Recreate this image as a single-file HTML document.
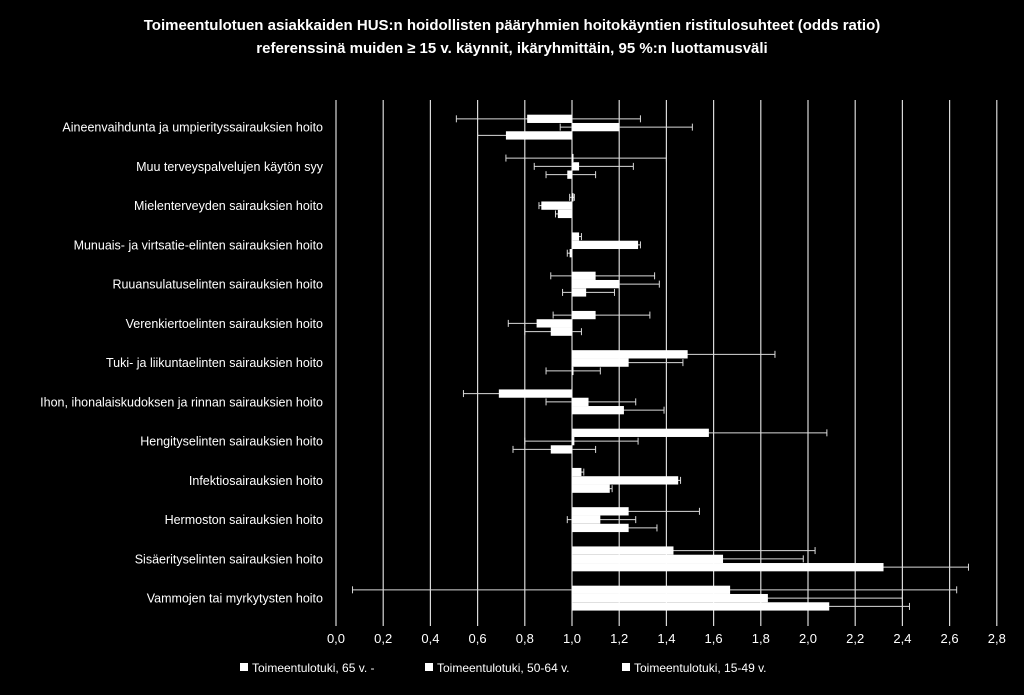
<!DOCTYPE html>
<html><head><meta charset="utf-8">
<style>
html,body{margin:0;padding:0;background:#000;}
svg{display:block;font-family:"Liberation Sans",sans-serif;}
</style></head>
<body>
<svg id="chart" width="1024" height="695" xmlns="http://www.w3.org/2000/svg">
<rect width="1024" height="695" fill="#000"/>
<text x="512" y="30" fill="#fff" font-size="15" font-weight="bold" text-anchor="middle">Toimeentulotuen asiakkaiden HUS:n hoidollisten pääryhmien hoitokäyntien ristitulosuhteet (odds ratio)</text>
<text x="512" y="53" fill="#fff" font-size="15" font-weight="bold" text-anchor="middle">referenssinä muiden ≥ 15 v. käynnit, ikäryhmittäin, 95 %:n luottamusväli</text>
<g id="grid"></g>
<g id="labels"></g>
<g id="whiskers"></g>
<g id="bars"></g>
<g id="ticks"></g>
<g id="legend"></g>
</svg>
<script>
const categories=["Aineenvaihdunta ja umpierityssairauksien hoito","Muu terveyspalvelujen käytön syy","Mielenterveyden sairauksien hoito","Munuais- ja virtsatie-elinten sairauksien hoito","Ruuansulatuselinten sairauksien hoito","Verenkiertoelinten sairauksien hoito","Tuki- ja liikuntaelinten sairauksien hoito","Ihon, ihonalaiskudoksen ja rinnan sairauksien hoito","Hengityselinten sairauksien hoito","Infektiosairauksien hoito","Hermoston sairauksien hoito","Sisäeritysrauhasten sairauksien hoito","Vammojen tai myrkytysten hoito"];
categories[11]="Sisäerityselinten sairauksien hoito";
const seriesNames=["Toimeentulotuki, 65 v. -","Toimeentulotuki, 50-64 v.","Toimeentulotuki, 15-49 v."];
const or65=[0.81,1.00,1.00,1.03,1.10,1.10,1.49,0.69,1.58,1.04,1.24,1.43,1.67];
const lo65=[0.51,0.72,0.99,1.02,0.91,0.92,1.10,0.54,1.00,1.02,1.00,1.00,0.07];
const hi65=[1.29,1.40,1.01,1.04,1.35,1.33,1.86,1.00,2.08,1.05,1.54,2.03,2.63];
const or5064=[1.20,1.03,0.87,1.28,1.20,0.85,1.24,1.07,1.01,1.45,1.12,1.64,1.83];
const lo5064=[0.95,0.84,0.86,1.27,1.05,0.73,1.00,0.89,0.80,1.44,0.98,1.30,1.40];
const hi5064=[1.51,1.26,0.88,1.29,1.37,1.00,1.47,1.27,1.28,1.46,1.27,1.98,2.40];
const or1549=[0.72,0.98,0.94,0.99,1.06,0.91,1.00,1.22,0.91,1.16,1.24,2.32,2.09];
const lo1549=[0.60,0.89,0.93,0.98,0.96,0.80,0.89,1.07,0.75,1.15,1.12,1.90,1.80];
const hi1549=[0.98,1.10,0.95,1.00,1.18,1.04,1.12,1.39,1.10,1.17,1.36,2.68,2.43];
const xTicks=[0,0.2,0.4,0.6,0.8,1.0,1.2,1.4,1.6,1.8,2.0,2.2,2.4,2.6,2.8];

const NS="http://www.w3.org/2000/svg";
const X0=336,XU=236,TOP=107.5,BAND=39.25,BH=8.3;
const x=v=>X0+XU*v;
const yc=i=>TOP+BAND*i+BAND/2;
function mk(tag,attrs,parent){const e=document.createElementNS(NS,tag);for(const k in attrs)e.setAttribute(k,attrs[k]);parent.appendChild(e);return e;}
const grid=document.getElementById('grid'),labels=document.getElementById('labels'),wh=document.getElementById('whiskers'),bars=document.getElementById('bars'),ticks=document.getElementById('ticks'),legend=document.getElementById('legend');
xTicks.forEach(t=>{
  const l=mk('line',{x1:x(t),x2:x(t),y1:100,y2:626,stroke:'#d9d9d9','stroke-width':1.2},grid);
  
  
  const tx=mk('text',{x:x(t),y:643,fill:'#fff','font-size':13,'text-anchor':'middle'},ticks);
  tx.textContent=t.toFixed(1).replace('.',',');
  
  
});
categories.forEach((c,i)=>{
  const tx=mk('text',{x:323,y:yc(i)+4.5,fill:'#fff','font-size':12.5,'text-anchor':'end'},labels);
  tx.textContent=c;
  
  
});
const series=[[or65,lo65,hi65],[or5064,lo5064,hi5064],[or1549,lo1549,hi1549]];
series.forEach((s,k)=>{
  s[0].forEach((v,i)=>{
    const y=yc(i)-1.5*BH+k*BH;
    const cy=y+BH/2;
    const wl=mk('line',{x1:x(s[1][i]),x2:x(s[2][i]),y1:cy,y2:cy,stroke:'#d9d9d9','stroke-width':1},wh);
    
    
    [s[1][i],s[2][i]].forEach(e=>{
      const cap=mk('line',{x1:x(e),x2:x(e),y1:cy-3.5,y2:cy+3.5,stroke:'#d9d9d9','stroke-width':1},wh);
      
      
    });
    const a=Math.min(x(1),x(v)),w=Math.abs(x(v)-x(1));
    const r=mk('rect',{x:a,y:y,width:Math.max(w,1.5),height:BH,fill:'#fff'},bars);
    
    
  });
});
const lx=[240,425,622];
seriesNames.forEach((n,k)=>{
  const r=mk('rect',{x:lx[k],y:663,width:8,height:8,fill:'#fff'},legend);
  
  
  const t=mk('text',{x:lx[k]+12,y:672,fill:'#fff','font-size':12},legend);
  t.textContent=n;
  
  
});
</script>
</body></html>
